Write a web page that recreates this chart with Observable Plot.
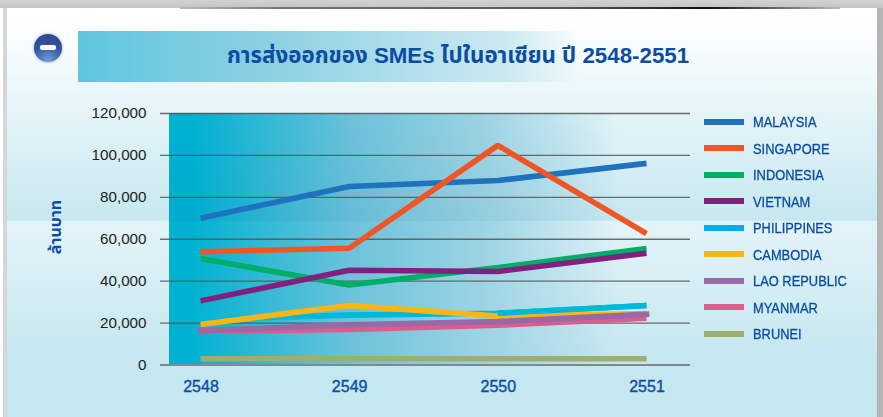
<!DOCTYPE html>
<html><head><meta charset="utf-8">
<script src="https://cdn.jsdelivr.net/npm/d3@7"></script>
<script src="https://cdn.jsdelivr.net/npm/@observablehq/plot@0.6"></script>
<style>
html,body{margin:0;padding:0;background:#fff;}
#stage{position:relative;width:883px;height:417px;overflow:hidden;font-family:"Liberation Sans",sans-serif;}
#stage>div{position:absolute;}
#top{left:0;top:0;width:883px;height:8px;background:linear-gradient(#d2d2d2,#c4c4c4);}
#topline{left:180px;top:7px;width:660px;height:2px;background:linear-gradient(90deg,#bbb 0,#777 15%,#555 60%,#111 80%,#bbb 100%);}
#left{left:3px;top:8px;width:4px;height:409px;background:#d6d6d6;}
#right{left:877px;top:8px;width:6px;height:409px;background:#b4b4b4;}
#panelA{left:7px;top:9px;width:870px;height:212px;background:linear-gradient(#fff 0,#fff 5%,#c6e8f0 100%);}
#panelB{left:7px;top:221px;width:870px;height:196px;background:linear-gradient(#e4f4f8 0,#c5e7f0 70%);}
#band{left:78px;top:31px;width:502px;height:51px;background:linear-gradient(90deg,#5fc6dd 0,#8ed1e3 40%,#cbe9f1 85%,rgba(220,240,246,0) 100%);}
#title{left:78px;top:31px;height:51px;text-align:center;font:bold 22.3px "Liberation Sans","Noto Sans Thai","Noto Sans",sans-serif;line-height:49px;color:#0b4da2;width:760px;}
#icon{left:34px;top:34px;width:28px;height:28px;border-radius:50%;background:radial-gradient(circle at 50% 95%,#6aa0d8 0,#34529f 55%,#2c4189 100%);box-shadow:0 0 3px #8a96b5;}
#icon::after{content:"";position:absolute;left:6px;top:11px;width:16px;height:5px;border-radius:2px;background:#fff;}
#grad{left:169px;top:113px;width:450px;height:251px;background:linear-gradient(90deg,#00b2d2 0,#00b2d2 5%,#6bc2da 40%,#9dd4e4 70%,rgba(190,228,238,0) 100%);}
#grad::after{content:"";position:absolute;left:0;top:0;width:100%;height:108px;background:linear-gradient(rgba(0,90,140,0),rgba(0,90,140,.06));-webkit-mask-image:linear-gradient(90deg,#000 70%,transparent);mask-image:linear-gradient(90deg,#000 70%,transparent);}
#ytitle{left:24px;top:199px;width:64px;height:56px;display:flex;align-items:center;justify-content:center;}
#ytitle span{transform:rotate(-90deg);white-space:nowrap;font:bold 16px "Liberation Sans","Noto Sans Thai","Noto Sans",sans-serif;color:#0b4da2;}
#chart{left:0;top:0;}
#chart svg{background:transparent;display:block;}
#chart g[aria-label="x-axis tick label"]{stroke:#0b4da2;stroke-width:.35px;}
#legend{left:704px;top:109.5px;width:170px;}
.row{position:absolute;left:0;height:26px;width:170px;}
.sw{position:absolute;left:0;top:9px;width:40px;height:6px;}
.lb{position:absolute;left:49px;top:4.5px;font-size:14px;line-height:16px;color:#0b4da2;-webkit-text-stroke:.3px #0b4da2;white-space:nowrap;transform:scaleX(.92);transform-origin:left center;}
</style></head><body>
<div id="stage">
<div id="panelA"></div><div id="panelB"></div>
<div id="top"></div><div id="topline"></div><div id="left"></div><div id="right"></div>
<div id="band"></div><div id="title"></div><div id="icon"></div>
<div id="grad"></div>
<div id="ytitle"><span></span></div>
<div id="chart"></div>
<div id="legend"></div>
</div>
<script>
const titleText = "การส่งออกของ SMEs ไปในอาเซียน ปี 2548-2551";
const yTitle = "ล้านบาท";
const years = [2548, 2549, 2550, 2551];
const yTicks = [0, 20000, 40000, 60000, 80000, 100000, 120000];

const malaysia    = [70000, 85200, 88000, 96200];
const singapore   = [54000, 55700, 104800, 62700];
const indonesia   = [50800, 38200, 46500, 55600];
const vietnam     = [30600, 45200, 44600, 53300];
const philippines = [21800, 23800, 24700, 28400];
const cambodia    = [19300, 28400, 23300, 24500];
const lao         = [16300, 19200, 20700, 24200];
const myanmar     = [16000, 17000, 19000, 22300];
const brunei      = [3000, 3000, 3000, 3000];

const names  = ["MALAYSIA","SINGAPORE","INDONESIA","VIETNAM","PHILIPPINES","CAMBODIA","LAO REPUBLIC","MYANMAR","BRUNEI"];
const values = [malaysia,singapore,indonesia,vietnam,philippines,cambodia,lao,myanmar,brunei];
const colors = ["#1f72bd","#f25524","#00ae68","#83207f","#00b8d8","#fdb515","#9a68a6","#dc5c8a","#9cae72"];
const legendColors = ["#1f72bd","#f25524","#00ae68","#83207f","#00aeef","#fdb515","#9a68a6","#dc5c8a","#9cae72"];
const drawOrder = [8,0,1,2,3,4,5,7,6];

document.getElementById("title").textContent = titleText;
document.querySelector("#ytitle span").textContent = yTitle;

const seriesRows = i => years.map((y,j) => ({year:y, value:values[i][j]}));
const lineOf = (i, rows, cap) => Plot.line(rows, {x:"year", y:"value", stroke:colors[i], strokeWidth:5.6, strokeLinecap:cap||"butt", strokeLinejoin:"miter"});

const chart = Plot.plot({
  width: 883, height: 417,
  marginLeft: 160, marginRight: 193, marginTop: 113, marginBottom: 52.5,
  style: {background:"transparent", fontFamily:"Liberation Sans, sans-serif"},
  x: {type:"linear", domain:[2547.731, 2551.296], axis:null},
  y: {domain:[0,120000], axis:null},
  marks: [
    Plot.ruleY(yTicks, {stroke:"#555", strokeWidth:1.3, strokeOpacity:.85}),
    ...drawOrder.map(i => lineOf(i, seriesRows(i), i===6 ? "square" : "butt")),
    // the Philippines line passes back over Cambodia from 2550 on
    lineOf(4, seriesRows(4).slice(2)),
    Plot.axisY(yTicks, {anchor:"left", tickSize:0, tickPadding:14, tickFormat:d3.format(","), fontSize:15.2, fill:"#222", label:null}),
    Plot.axisX(years, {anchor:"bottom", tickSize:0, tickPadding:16, tickFormat:d=>String(d), fontSize:16, fill:"#0b4da2", label:null, dx:0.5})
  ]
});
document.getElementById("chart").appendChild(chart);

const lg = document.getElementById("legend");
names.forEach((n,i)=>{
  const r=document.createElement("div"); r.className="row"; r.style.top=(i*26.5)+"px";
  const s=document.createElement("div"); s.className="sw"; s.style.background=legendColors[i];
  const t=document.createElement("div"); t.className="lb"; t.textContent=n;
  r.append(s,t); lg.appendChild(r);
});
</script>
</body></html>
